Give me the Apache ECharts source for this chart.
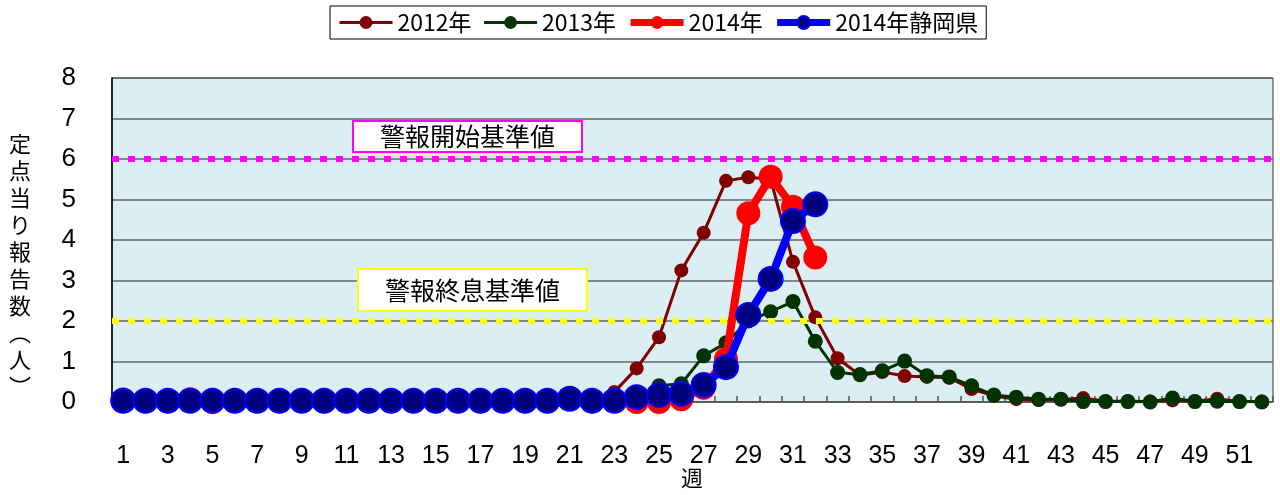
<!DOCTYPE html>
<html>
<head>
<meta charset="utf-8">
<script src="https://cdn.jsdelivr.net/npm/echarts@6/dist/echarts.min.js"></script>
<style>
html,body{margin:0;padding:0;background:#fff;}
#chart{width:1280px;height:495px;}
</style>
</head>
<body>
<div id="chart"></div>
<script>
var weeks = ['1','2','3','4','5','6','7','8','9','10','11','12','13','14','15','16','17','18','19','20','21','22','23','24','25','26','27','28','29','30','31','32','33','34','35','36','37','38','39','40','41','42','43','44','45','46','47','48','49','50','51','52'];

var y2012 = [0.03,0.02,0.02,0.04,0.02,0.02,0.02,0.02,0.02,0.02,0.02,0.02,0.02,0.02,0.02,0.02,0.02,0.02,0.02,0.02,0.05,0.05,
             0.25,0.83,1.6,3.25,4.18,5.46,5.55,5.5,3.46,2.09,1.08,0.66,0.74,0.64,0.62,0.6,0.32,0.15,0.07,0.05,0.06,0.1,0.02,0.02,0.01,0.04,0.02,0.08,0.01,0.01];

var y2013 = [0.04,0.04,0.03,0.04,0.03,0.03,0.03,0.03,0.03,0.03,0.03,0.03,0.03,0.03,0.03,0.03,0.03,0.03,0.03,0.03,0.06,0.05,
             0.06,0.12,0.4,0.45,1.14,1.46,2.0,2.23,2.48,1.5,0.73,0.68,0.77,1.01,0.65,0.62,0.4,0.17,0.12,0.07,0.07,0.01,0.01,0.01,0.0,0.1,0.01,0.02,0.01,0.0];

var y2014 = [0.06,0.02,0.02,0.07,0.0,0.02,0.02,0.02,0.02,0.02,0.02,0.02,0.02,0.02,0.02,0.02,0.02,0.02,0.02,0.02,0.08,0.03,
             0.02,0.0,0.0,0.07,0.35,1.06,4.66,5.56,4.82,3.57];

var y2014Shizuoka = [0.03,0.03,0.03,0.03,0.03,0.03,0.03,0.03,0.03,0.03,0.03,0.03,0.03,0.03,0.03,0.03,0.03,0.03,0.03,0.03,0.08,0.03,
             0.03,0.12,0.17,0.2,0.42,0.86,2.15,3.04,4.47,4.88];

var alertStart = 6;
var alertEnd = 2;
var yTicks = {min: 0, max: 8, interval: 1};

var seriesNames = ['2012年','2013年','2014年','2014年静岡県'];
var yTitle = '定点当り報告数︵人︶';
var xTitle = '週';
var alertStartLabel = '警報開始基準値';
var alertEndLabel = '警報終息基準値';

var FONT = '"Noto Sans CJK JP", "Noto Sans", sans-serif';
var NUMFONT = '"Liberation Sans Narrow", "Liberation Sans", "Noto Sans", sans-serif';

var chart = echarts.init(document.getElementById('chart'), null, {renderer: 'canvas'});

var option = {
  animation: false,
  backgroundColor: '#ffffff',
  grid: {
    left: 112, right: 7, top: 78, bottom: 93,
    containLabel: false, outerBoundsMode: 'none',
    show: true, backgroundColor: '#DAEEF3', borderColor: '#333', borderWidth: 1
  },
  legend: {
    data: [
      {name: seriesNames[0], lineStyle: {width: 3}},
      {name: seriesNames[1], lineStyle: {width: 3}},
      {name: seriesNames[2], lineStyle: {width: 7}},
      {name: seriesNames[3], lineStyle: {width: 7}}
    ],
    left: 330, top: 6,
    padding: [5, 8],
    itemGap: 11,
    itemWidth: 53,
    itemHeight: 16,
    borderColor: '#000', borderWidth: 1,
    backgroundColor: '#fff',
    textStyle: {fontSize: 23, fontFamily: FONT, color: '#000'}
  },
  xAxis: {
    type: 'category',
    data: weeks,
    boundaryGap: true,
    axisLine: {show: true, lineStyle: {color: '#555', width: 1.5}},
    axisTick: {show: true, inside: true, length: 6, interval: 0, lineStyle: {color: '#555', width: 1.5}},
    axisLabel: {interval: 1, margin: 42, fontSize: 25, fontFamily: NUMFONT, color: '#000'},
    splitLine: {show: false}
  },
  yAxis: {
    type: 'value',
    min: yTicks.min, max: yTicks.max, interval: yTicks.interval,
    axisLine: {show: true, lineStyle: {color: '#000', width: 1.5}},
    axisTick: {show: false},
    axisLabel: {margin: 36, fontSize: 26, fontFamily: NUMFONT, color: '#000'},
    splitLine: {show: true, lineStyle: {color: '#666', width: 1.5}}
  },
  graphic: [
    {
      type: 'text', left: 9, top: 130, z: 100,
      style: {text: yTitle.split('').join('\n'), fontSize: 22, lineHeight: 27, fontFamily: FONT, fill: '#000', align: 'center'}
    },
    {
      type: 'text', left: 681, top: 465, z: 100,
      style: {text: xTitle, fontSize: 22, lineHeight: 26, fontFamily: FONT, fill: '#000'}
    },
    {
      type: 'text', left: 352, top: 120, z: 100,
      style: {text: alertStartLabel, fontSize: 25, lineHeight: 27, fontFamily: FONT, fill: '#000',
        backgroundColor: '#fff', borderColor: '#FF00FF', borderWidth: 2, padding: [1, 26]}
    },
    {
      type: 'text', left: 357, top: 268, z: 100,
      style: {text: alertEndLabel, fontSize: 25, lineHeight: 28, fontFamily: FONT, fill: '#000',
        backgroundColor: '#fff', borderColor: '#FFFF00', borderWidth: 2, padding: [6, 26]}
    }
  ],
  series: [
    {
      name: seriesNames[0], type: 'line', data: y2012, z: 2,
      symbol: 'circle', symbolSize: 14, showAllSymbol: true,
      lineStyle: {color: '#800000', width: 3},
      itemStyle: {color: '#800000'}
    },
    {
      name: seriesNames[1], type: 'line', data: y2013, z: 3,
      symbol: 'circle', symbolSize: 15, showAllSymbol: true,
      lineStyle: {color: '#003300', width: 3},
      itemStyle: {color: '#003300'}
    },
    {
      name: seriesNames[2], type: 'line', data: y2014, z: 4,
      symbol: 'circle', symbolSize: 24, showAllSymbol: true,
      lineStyle: {color: '#FF0000', width: 8},
      itemStyle: {color: '#FF0000'}
    },
    {
      name: seriesNames[3], type: 'line', data: y2014Shizuoka, z: 5,
      symbol: 'circle', symbolSize: 24, showAllSymbol: true,
      lineStyle: {color: '#0000FF', width: 8},
      itemStyle: {color: '#000080', borderColor: '#0000FF', borderWidth: 2}
    },
    {
      name: 'ref', type: 'line', data: [], z: 10,
      markLine: {
        silent: true, symbol: 'none', animation: false,
        label: {show: false},
        data: [
          {yAxis: alertStart, lineStyle: {color: '#FF00FF', width: 6, type: [7, 9]}},
          {yAxis: alertEnd, lineStyle: {color: '#FFFF00', width: 6, type: [7, 9]}}
        ]
      }
    }
  ]
};
chart.setOption(option);
</script>
</body>
</html>
